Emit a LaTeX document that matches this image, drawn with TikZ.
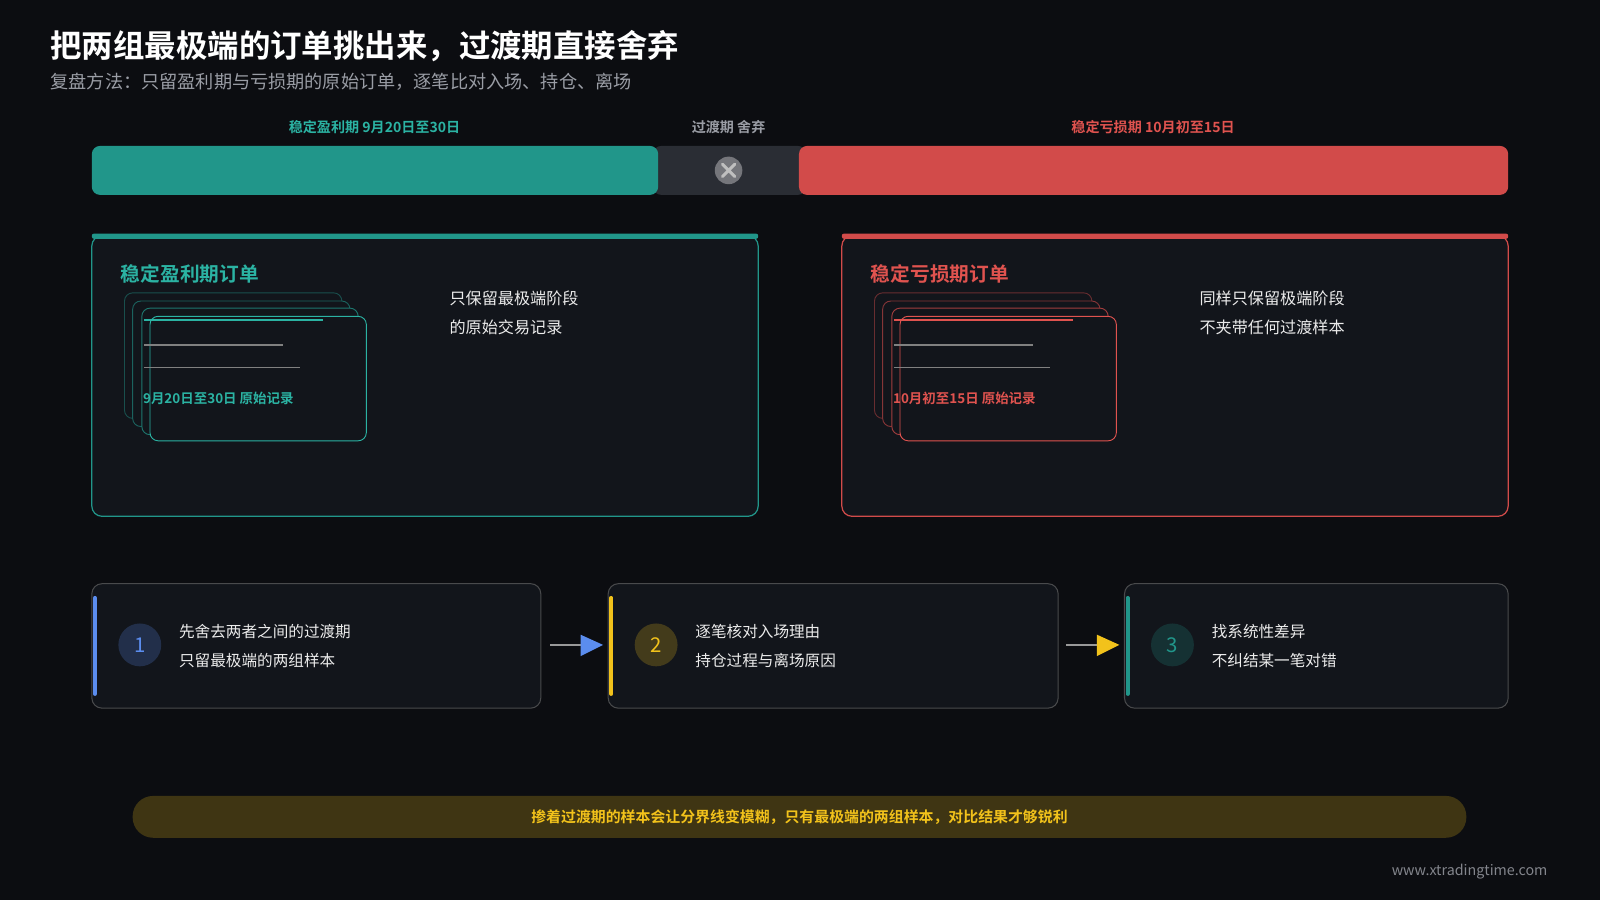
\documentclass[tikz,border=0pt]{standalone}
\usepackage{fontspec}
\setmainfont{Noto Sans CJK SC}[BoldFont={Noto Sans CJK SC Bold}]
\begin{document}
\definecolor{bg}{HTML}{0C0D11}
\definecolor{panel}{HTML}{12151B}
\definecolor{teal}{HTML}{21968A}
\definecolor{tealt}{HTML}{2BB3A3}
\definecolor{redc}{HTML}{D24B4A}
\definecolor{redt}{HTML}{E0534F}
\definecolor{grayb}{HTML}{2A2D34}
\definecolor{blue}{HTML}{5B8DEF}
\definecolor{yel}{HTML}{F2C21B}
\definecolor{subg}{HTML}{9A9DA5}
\begin{tikzpicture}[x=1pt,y=-1pt,
  lbl/.style={font=\fontsize{13.8}{14}\selectfont\bfseries},
  side/.style={font=\fontsize{15.8}{16}\selectfont,text=white!92!black,anchor=west},
  sside/.style={font=\fontsize{15.3}{16}\selectfont,text=white!92!black,anchor=west},
  stepbox/.style={draw=white!25!bg,line width=1pt,fill=panel,rounded corners=10pt},
  circ/.style={circle,minimum size=42pt,inner sep=0pt,font=\fontsize{20}{20}\selectfont},
  card/.style={rounded corners=8pt,line width=0.9pt,fill=panel}]
\useasboundingbox[fill=bg] (0,0) rectangle (1568,882);
\node[anchor=west,text=white,font=\fontsize{30.8}{31}\selectfont\bfseries] (title) at (46,45) {把两组最极端的订单挑出来，过渡期直接舍弃};
\node[anchor=west,text=subg,font=\fontsize{17.8}{18}\selectfont] (sub) at (46,80) {复盘方法：只留盈利期与亏损期的原始订单，逐笔比对入场、持仓、离场};
% timeline
\node[lbl,text=tealt] (l1) at (367,125) {稳定盈利期 9月20日至30日};
\node[lbl,text=subg] (l2) at (714,125) {过渡期 舍弃};
\node[lbl,text=redt] (l3) at (1130,125) {稳定亏损期 10月初至15日};
\fill[grayb,rounded corners=8pt] (640,143) rectangle (790,191);
\fill[teal,rounded corners=8pt] (90,143) rectangle (645,191);
\fill[redc,rounded corners=8pt] (783,143) rectangle (1478,191);
\node[circle,fill=white!35!grayb,minimum size=27pt,inner sep=0pt] (x) at (714,167) {};
\draw[white!75!black,line width=3pt,line cap=round] (708,161)--(720,173) (720,161)--(708,173);
% panels
\foreach \ox/\c/\tc/\ttl/\rec/\sa/\sb in {0/teal/tealt/稳定盈利期订单/9月20日至30日 原始记录/只保留最极端阶段/的原始交易记录, 735/redc/redt/稳定亏损期订单/10月初至15日 原始记录/同样只保留极端阶段/不夹带任何过渡样本}{
 \begin{scope}[xshift=\ox]
 \draw[\c,line width=1.2pt,fill=panel,rounded corners=10pt] (90,231) rectangle (743,506);
 \fill[\c,rounded corners=2pt] (90,229) rectangle (743,234);
 \node[anchor=west,text=\tc,font=\fontsize{19.3}{20}\selectfont\bfseries] at (115,268) {\ttl};
 \draw[card,draw=\c!45!panel] (122,287) rectangle (335,410);
 \draw[card,draw=\c!60!panel] (130,295) rectangle (343,418);
 \draw[card,draw=\c!75!panel] (139,302) rectangle (351,426);
 \draw[card,draw=\tc] (147,310) rectangle (359,432);
 \draw[\tc,line width=2pt] (141,314)--(317,314);
 \draw[white!50!black,line width=1.3pt] (141,338)--(277,338) (141,360)--(294,360);
 \node[anchor=west,inner sep=0pt,text=\tc,font=\fontsize{13.2}{13}\selectfont\bfseries] at (140,390) {\rec};
 \node[side] at (437,292) {\sa};
 \node[side] at (437,321) {\sb};
 \end{scope}}
% steps
\foreach \x/\w/\c/\n/\sa/\sb [count=\i] in {90/440/blue/1/先舍去两者之间的过渡期/只留最极端的两组样本, 596/441/yel/2/逐笔核对入场理由/持仓过程与离场原因, 1102/376/teal/3/找系统性差异/不纠结某一笔对错}{
 \draw[stepbox] (\x,572) rectangle (\x+\w,694);
 \draw[\c,line width=4pt,line cap=round] (\x+3,586)--(\x+3,680);
 \node[circ,fill=\c!22!panel,text=\c] (c\i) at (\x+47,632) {\n};
 \node[sside] at (\x+82,619) {\sa};
 \node[sside] at (\x+82,647) {\sb};
}
\coordinate (a1s) at (539,632); \coordinate (a1e) at (591,632);
\coordinate (a2s) at (1045,632); \coordinate (a2e) at (1097,632);
\draw[white!60!black,line width=1.8pt] (a1s)--(570,632);
\fill[blue] (569,622)--(a1e)--(569,643)--cycle;
\draw[white!60!black,line width=1.8pt] (a2s)--(1076,632);
\fill[yel] (1075,622)--(a2e)--(1075,643)--cycle;
% bottom
\node[fill=yel!22!bg,rounded corners=20pt,minimum width=1307pt,minimum height=41pt,text=yel,font=\fontsize{14.6}{15}\selectfont\bfseries] (note) at (783.5,800.5) {掺着过渡期的样本会让分界线变模糊，只有最极端的两组样本，对比结果才够锐利};
\node[anchor=east,text=subg!85!black,font=\fontsize{14}{14}\selectfont] (url) at (1520,854) {www.xtradingtime.com};
\end{tikzpicture}
\end{document}
